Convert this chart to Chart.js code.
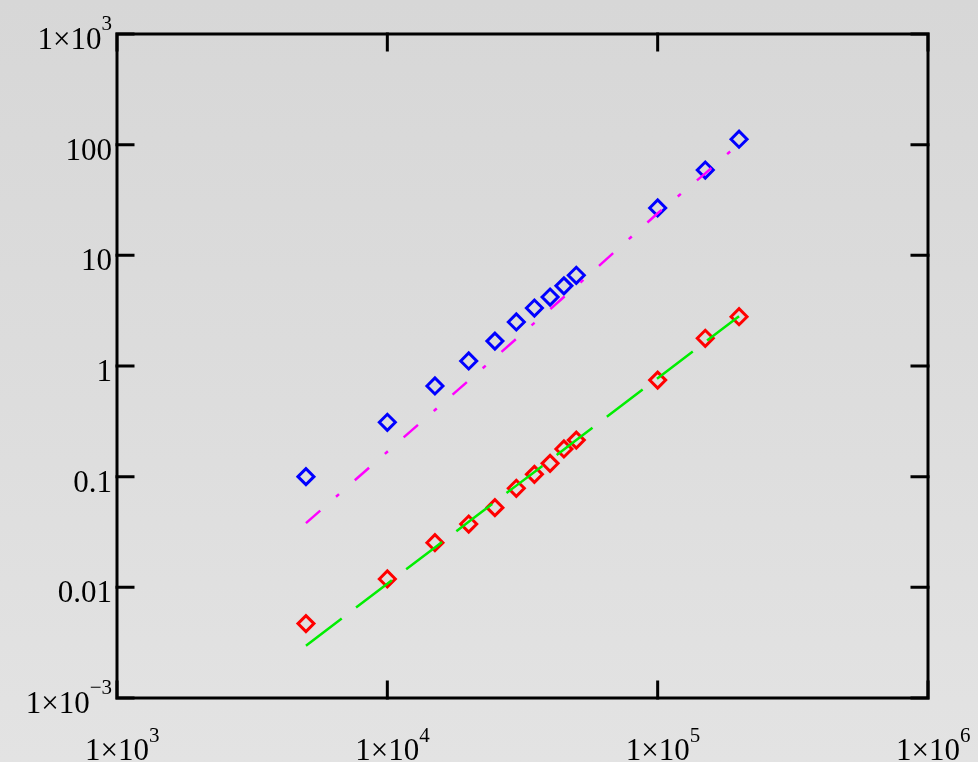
<!DOCTYPE html>
<html>
<head>
<meta charset="utf-8">
<script src="https://cdn.jsdelivr.net/npm/chart.js@4/dist/chart.umd.min.js"></script>
<style>
  html, body { margin: 0; padding: 0; }
  body { width: 978px; height: 762px; overflow: hidden;
         background: linear-gradient(#d7d7d7, #dcdcdc 45%, #e3e3e3); }
  #wrap { position: relative; width: 978px; height: 762px; }
</style>
</head>
<body>
<div id="wrap"><canvas id="myChart" width="978" height="762"></canvas></div>
<script>
// x positions (problem size)
var sizes = [5000, 10000, 15000, 20000, 25000, 30000, 35000, 40000, 45000, 50000, 100000, 150000, 200000];
// measured times (diamonds)
var blueTimes = [0.1, 0.31, 0.66, 1.11, 1.68, 2.5, 3.34, 4.2, 5.3, 6.6, 26.8, 59, 112];
var redTimes = [0.0047, 0.0119, 0.0253, 0.0373, 0.0525, 0.0785, 0.105, 0.132, 0.178, 0.214, 0.746, 1.78, 2.79];
// fitted curves (lines)
var magentaFit = [0.038, 0.168, 0.40, 0.74, 1.19, 1.76, 2.45, 3.26, 4.2, 5.26, 24, 55, 102];
var greenFit = [0.00297, 0.0108, 0.0229, 0.0391, 0.0592, 0.083, 0.110, 0.1416, 0.176, 0.214, 0.776, 1.65, 2.82];

// tick labels
var xTickValues = [1e3, 1e4, 1e5, 1e6];
var xTickLabels = [['1\u00d710', '3'], ['1\u00d710', '4'], ['1\u00d710', '5'], ['1\u00d710', '6']];
var yTickValues = [1e-3, 0.01, 0.1, 1, 10, 100, 1e3];
var yTickLabels = [['1\u00d710', '\u22123'], ['0.01', ''], ['0.1', ''], ['1', ''], ['10', ''], ['100', ''], ['1\u00d710', '3']];

function pairs(xs, ys) {
    return xs.map(function (x, i) { return { x: x, y: ys[i] }; });
}

var mainFont = '31px "Liberation Serif", "Times New Roman", serif';
var supFont = '21px "Liberation Serif", "Times New Roman", serif';

var framePlugin = {
    id: 'frame',
    afterDatasetsDraw: function (chart) {
        var ctx = chart.ctx;
        var a = chart.chartArea;
        var xs = chart.scales.x, ys = chart.scales.y;
        var tick = 16;
        ctx.save();
        ctx.strokeStyle = '#000';
        ctx.lineWidth = 3;
        ctx.lineCap = 'square';
        ctx.strokeRect(a.left, a.top, a.right - a.left, a.bottom - a.top);
        ctx.beginPath();
        xTickValues.forEach(function (v) {
            var px = xs.getPixelForValue(v);
            ctx.moveTo(px, a.bottom); ctx.lineTo(px, a.bottom - tick);
            ctx.moveTo(px, a.top); ctx.lineTo(px, a.top + tick);
        });
        yTickValues.forEach(function (v) {
            var py = ys.getPixelForValue(v);
            ctx.moveTo(a.left, py); ctx.lineTo(a.left + tick, py);
            ctx.moveTo(a.right, py); ctx.lineTo(a.right - tick, py);
        });
        ctx.stroke();

        ctx.fillStyle = '#000';
        ctx.textBaseline = 'alphabetic';
        // x labels: base centred on the tick, exponent after it
        xTickValues.forEach(function (v, i) {
            var px = xs.getPixelForValue(v);
            ctx.font = mainFont;
            var w = ctx.measureText(xTickLabels[i][0]).width;
            ctx.textAlign = 'left';
            ctx.fillText(xTickLabels[i][0], px - w / 2, 760);
            ctx.font = supFont;
            ctx.fillText(xTickLabels[i][1], px + w / 2, 742);
        });
        // y labels: right aligned left of the axis
        var rightEdge = 112;
        yTickValues.forEach(function (v, i) {
            var py = ys.getPixelForValue(v);
            var base = yTickLabels[i][0], sup = yTickLabels[i][1];
            ctx.font = supFont;
            var sw = sup ? ctx.measureText(sup).width : 0;
            ctx.textAlign = 'right';
            if (sup) ctx.fillText(sup, rightEdge, py - 4);
            ctx.font = mainFont;
            ctx.fillText(base, rightEdge - sw, py + 15);
        });
        ctx.restore();
    }
};

document.addEventListener('DOMContentLoaded', function () {
    var ctx = document.getElementById('myChart').getContext('2d');
    var myChart = new Chart(ctx, {
        type: 'scatter',
        data: {
            datasets: [{
                data: pairs(sizes, magentaFit),
                showLine: true,
                borderColor: '#ff00ff',
                borderWidth: 2.5,
                borderDash: [19, 21, 4, 21],
                pointRadius: 0,
                order: 0
            }, {
                data: pairs(sizes, greenFit),
                showLine: true,
                borderColor: '#00ee00',
                borderWidth: 2.5,
                borderDash: [45, 18],
                pointRadius: 0,
                order: 0
            }, {
                data: pairs(sizes, blueTimes),
                pointStyle: 'rectRot',
                pointRadius: 8,
                borderColor: '#0000ff',
                backgroundColor: 'rgba(0,0,0,0)',
                pointBorderWidth: 3,
                order: 1
            }, {
                data: pairs(sizes, redTimes),
                pointStyle: 'rectRot',
                pointRadius: 8,
                borderColor: '#ff0000',
                backgroundColor: 'rgba(0,0,0,0)',
                pointBorderWidth: 3,
                order: 1
            }]
        },
        options: {
            responsive: false,
            animation: false,
            layout: { padding: { left: 117, right: 50, top: 34, bottom: 64 } },
            plugins: { legend: { display: false }, tooltip: { enabled: false } },
            scales: {
                x: { type: 'logarithmic', min: 1e3, max: 1e6, display: false },
                y: { type: 'logarithmic', min: 1e-3, max: 1e3, display: false }
            }
        },
        plugins: [framePlugin]
    });
});
</script>
</body>
</html>
